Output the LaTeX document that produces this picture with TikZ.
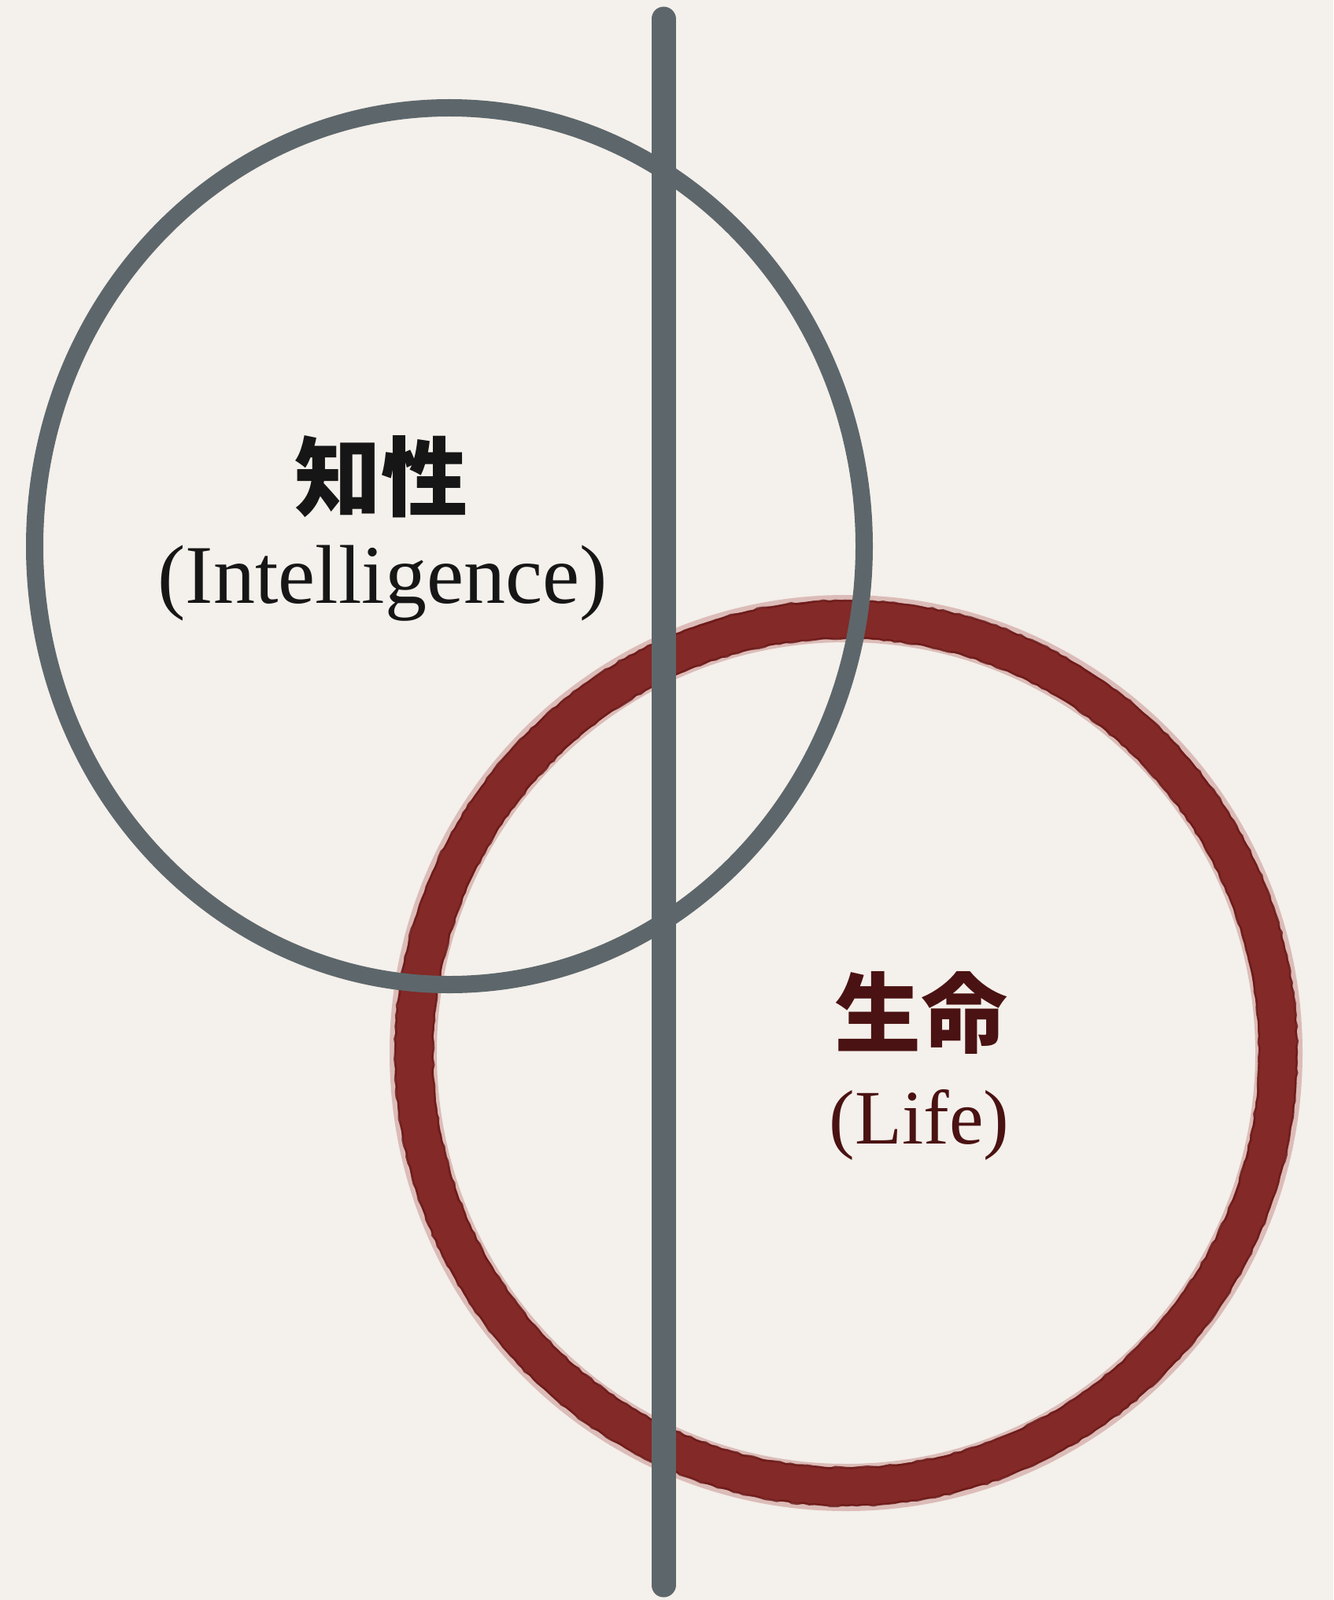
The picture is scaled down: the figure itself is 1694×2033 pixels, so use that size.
\documentclass[tikz,border=0pt]{standalone}
\usepackage{fontspec}
\setmainfont{Liberation Serif}
\newfontfamily\cjk{Noto Sans CJK JP}
\usetikzlibrary{decorations.pathmorphing}
\definecolor{bgcol}{HTML}{F4F0EB}
\definecolor{slate}{HTML}{5D676B}
\definecolor{wine}{HTML}{832927}
\definecolor{winedark}{HTML}{681817}
\definecolor{winelight}{HTML}{B8706C}
\definecolor{inkblack}{HTML}{161616}
\definecolor{inkred}{HTML}{4A1212}
\tikzset{
  slateline/.style={draw=slate,line width=22pt},
  barline/.style={draw=slate,line width=31pt,line cap=round},
  ringhalo/.style={draw=winelight,line width=60pt,opacity=0.4},
  ringmain/.style={draw=wine,line width=49pt},
  ringedge/.style={draw=winedark,line width=2.5pt,opacity=0.8,
    decorate,decoration={random steps,segment length=7pt,amplitude=1.2pt}},
  cjklabel/.style={font=\cjk\bfseries\fontsize{110}{115}\selectfont,inner sep=0pt,anchor=center},
  latlabel/.style={font=\fontsize{106}{112}\selectfont,inner sep=0pt,anchor=base},
}
\begin{document}
\begin{tikzpicture}[x=1pt,y=-1pt]
\useasboundingbox (0,0) rectangle (1694,2033);
\fill[bgcol] (0,0) rectangle (1694,2033);
\coordinate (graycenter) at (571,694);
\coordinate (redcenter) at (1075,1338);
\coordinate (bartop) at (843,24);
\coordinate (barbottom) at (843,2014);
% red ring
\draw[ringhalo] (redcenter) ellipse [x radius=550pt,y radius=552pt];
\draw[ringmain] (redcenter) ellipse [x radius=549pt,y radius=551pt];
\draw[ringedge] (redcenter) ellipse [x radius=573pt,y radius=575pt];
\draw[ringedge] (redcenter) ellipse [x radius=525pt,y radius=527pt];
% gray ring
\draw[slateline] (graycenter) ellipse [x radius=527pt,y radius=557pt];
% vertical bar
\draw[barline] (bartop) -- (barbottom);
% labels
\node[cjklabel,text=inkblack] (zhisei) at (484,606) {知性};
\node[latlabel,text=inkblack] (intel) at (486,766) {(Intelligence)};
\node[cjklabel,text=inkred] (seimei) at (1170,1287) {生命};
\node[latlabel,text=inkred,font=\fontsize{98}{104}\selectfont] (life) at (1168,1453) {(Life)};
\end{tikzpicture}
\end{document}
